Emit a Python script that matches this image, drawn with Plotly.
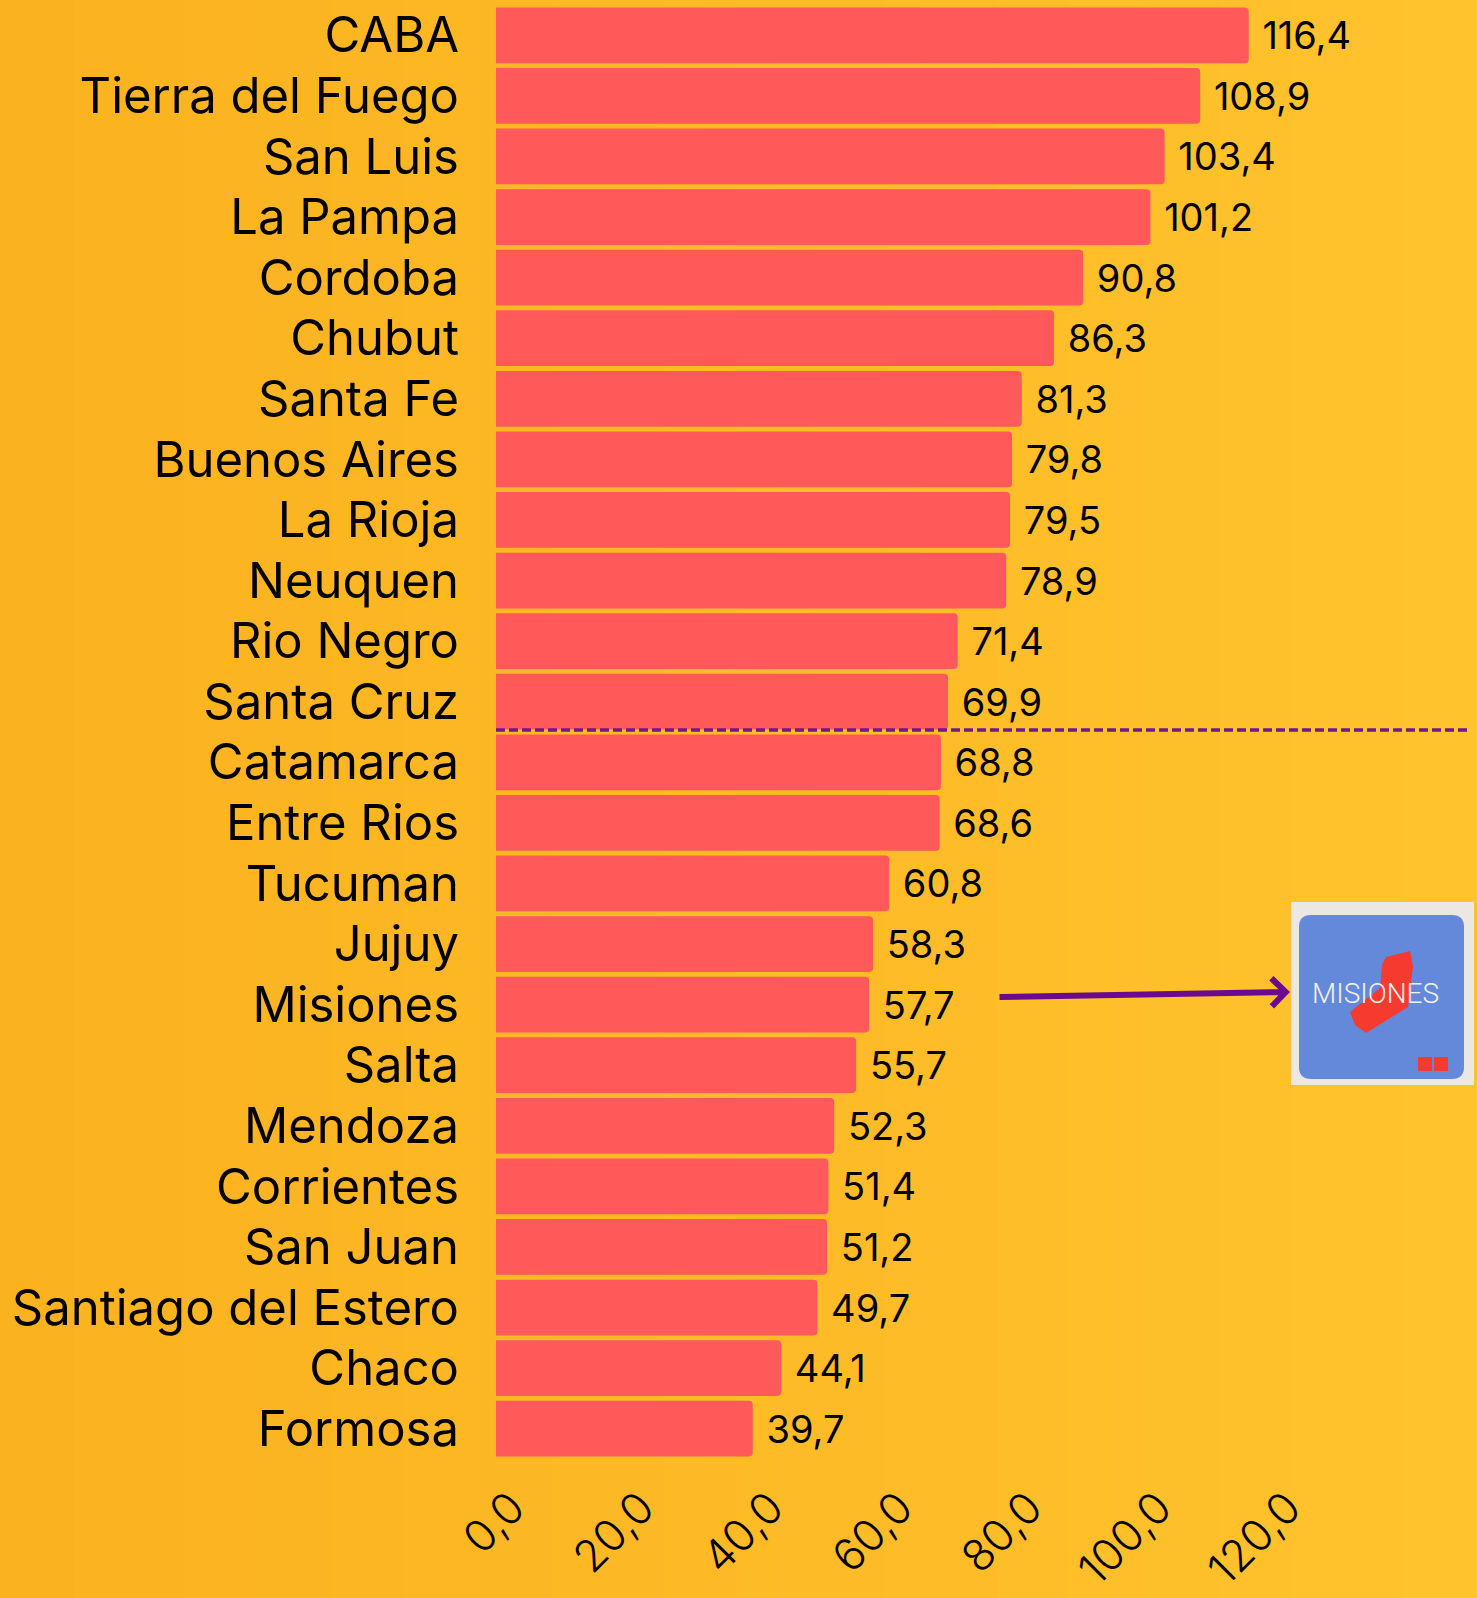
import plotly.graph_objects as go

provincias = ['CABA', 'Tierra del Fuego', 'San Luis', 'La Pampa', 'Cordoba', 'Chubut',
              'Santa Fe', 'Buenos Aires', 'La Rioja', 'Neuquen', 'Rio Negro', 'Santa Cruz',
              'Catamarca', 'Entre Rios', 'Tucuman', 'Jujuy', 'Misiones', 'Salta', 'Mendoza',
              'Corrientes', 'San Juan', 'Santiago del Estero', 'Chaco', 'Formosa']
valores = [116.4, 108.9, 103.4, 101.2, 90.8, 86.3, 81.3, 79.8, 79.5, 78.9, 71.4, 69.9,
           68.8, 68.6, 60.8, 58.3, 57.7, 55.7, 52.3, 51.4, 51.2, 49.7, 44.1, 39.7]
ticks = [0, 20, 40, 60, 80, 100, 120]

W, H = 1477, 1598
ML, MR, MT, MB = 496, 205, 5, 139
PW, PH = W - ML - MR, H - MT - MB


def px(x):
    return (x - ML) / PW


def py(y):
    return (H - MB - y) / PH


FONT = 'Inter'

fig = go.Figure(go.Bar(
    x=valores, y=provincias, orientation='h',
    marker=dict(color='#FF5959', line=dict(width=0), cornerradius=4),
    texttemplate=' %{x:.1f}', textposition='outside', constraintext='none',
    cliponaxis=False,
    textfont=dict(family=FONT, size=38, color='black'),
))

# fondo degradado
shapes = []
n = 40
c0, c1 = (251, 178, 31), (255, 195, 45)
for i in range(n):
    t = i / (n - 1)
    col = 'rgb(%d,%d,%d)' % tuple(round(a + (b - a) * t) for a, b in zip(c0, c1))
    shapes.append(dict(type='rect', xref='paper', yref='paper', layer='below',
                       x0=px(i * W / n - 1), x1=px((i + 1) * W / n + 1), y0=py(H + 2), y1=py(-2),
                       fillcolor=col, line=dict(width=0)))

# linea de corte
shapes.append(dict(type='line', xref='paper', yref='paper',
                   x0=0, x1=px(1469), y0=py(730), y1=py(730),
                   line=dict(color='#6F1A8C', width=3.5, dash='9px,4px')))

# logo
shapes.append(dict(type='rect', xref='paper', yref='paper',
                   x0=px(1291), x1=px(1474), y0=py(1085), y1=py(902),
                   fillcolor='#ECE7E2', line=dict(width=0)))


def rounded(x0, y0, x1, y1, r):
    return (f'M {px(x0 + r)} {py(y0)} L {px(x1 - r)} {py(y0)} '
            f'Q {px(x1)} {py(y0)} {px(x1)} {py(y0 + r)} L {px(x1)} {py(y1 - r)} '
            f'Q {px(x1)} {py(y1)} {px(x1 - r)} {py(y1)} L {px(x0 + r)} {py(y1)} '
            f'Q {px(x0)} {py(y1)} {px(x0)} {py(y1 - r)} L {px(x0)} {py(y0 + r)} '
            f'Q {px(x0)} {py(y0)} {px(x0 + r)} {py(y0)} Z')


shapes.append(dict(type='path', xref='paper', yref='paper', path=rounded(1299, 915, 1464, 1079, 12),
                   fillcolor='#6589DA', line=dict(width=0)))
red = [(1386, 957), (1410, 951), (1413, 966), (1409, 1000), (1408, 1007),
       (1366, 1033), (1355, 1025), (1350, 1012), (1380, 988), (1382, 965)]
shapes.append(dict(type='path', xref='paper', yref='paper',
                   path='M ' + ' L '.join(f'{px(a)} {py(b)}' for a, b in red) + ' Z',
                   fillcolor='#F53B30', line=dict(width=0)))
for x0 in (1418, 1434):
    shapes.append(dict(type='rect', xref='paper', yref='paper',
                       x0=px(x0), x1=px(x0 + 14), y0=py(1071), y1=py(1057),
                       fillcolor='#F53B30', line=dict(width=0)))

annotations = [
    dict(xref='paper', yref='paper', x=px(1375), y=py(993), xanchor='center', yanchor='middle',
         text='MISIONES', showarrow=False,
         font=dict(family='Roboto', size=28, color='#F4F1EC', weight=300)),
    dict(xref='paper', yref='paper', x=px(1290), y=py(992), ax=-292, ay=5,
         axref='pixel', ayref='pixel', text='', showarrow=True, arrowhead=4,
         arrowsize=0.9, arrowwidth=6, arrowcolor='#6B0A8F'),
]

fig.update_layout(
    width=W, height=H,
    margin=dict(l=ML, r=MR, t=MT, b=MB, autoexpand=False),
    paper_bgcolor='#FDBA27', plot_bgcolor='rgba(0,0,0,0)',
    separators=',.',
    bargap=0.08,
    showlegend=False,
    shapes=shapes, annotations=annotations,
    font=dict(family=FONT, color='black'),
)
fig.update_xaxes(range=[0, 120], tickvals=ticks, tickformat='.1f', tickangle=-45,
                 showgrid=False, zeroline=False, showline=False, automargin=False,
                 tickfont=dict(family=FONT, size=44, weight=300), ticklabelstandoff=13, ticklabelshift=16)
fig.update_yaxes(autorange='reversed', showgrid=False, showline=False, automargin=False,
                 tickfont=dict(family=FONT, size=49), ticklabelstandoff=36)

fig.write_html('out.html', config={'displayModeBar': False},
               post_script="document.body.style.margin='0';")
